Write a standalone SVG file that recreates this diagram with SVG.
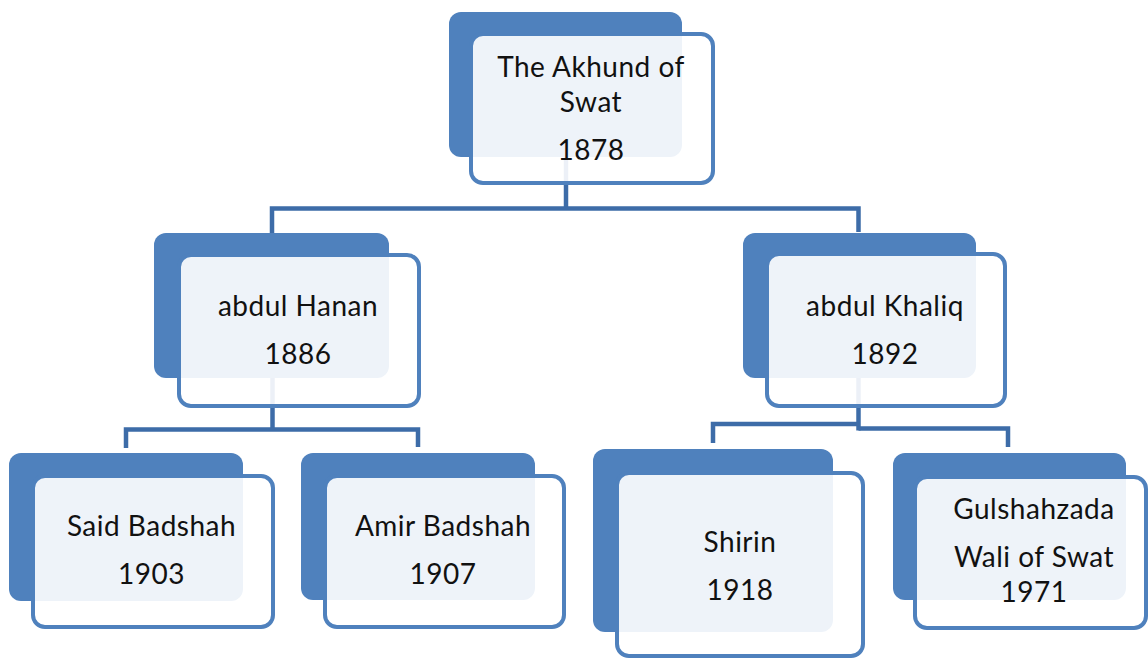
<svg xmlns="http://www.w3.org/2000/svg" width="1148" height="658" viewBox="0 0 1148 658">
<style>
.bg{fill:#ffffff}
.back{fill:#4F81BD}
.front{fill:#ffffff;fill-opacity:0.9;stroke:#4F81BD;stroke-width:4}
.conn{fill:none;stroke:#3D6CA8;stroke-width:4.5;stroke-linejoin:miter}
text{font-family:Lato,"Open Sans","Liberation Sans",sans-serif;font-size:28px;letter-spacing:0.5px;fill:#111111;text-anchor:middle}
</style>
<rect class="bg" x="0" y="0" width="1148" height="658"/>
<g id="connectors">
<path class="conn" d="M566,100 V208.5"/>
<path class="conn" d="M272,233 V208.5 H858.5 V232"/>
<path class="conn" d="M272.5,320 V429.5"/>
<path class="conn" d="M126,448 V429.5 H418 V447"/>
<path class="conn" d="M858.5,320 V430.5"/>
<path class="conn" d="M713,443 V424 H858.5"/>
<path class="conn" d="M858.5,428.5 H1008 V447"/>
</g>
<g id="node-akhund">
<rect class="back" x="449" y="12" width="233" height="145" rx="12"/>
<rect class="front" x="471" y="34" width="242" height="149" rx="12"/>
<text x="591" y="77">The Akhund of</text>
<text x="591" y="112">Swat</text>
<text x="591" y="160">1878</text>
</g>
<g id="node-hanan">
<rect class="back" x="154" y="233" width="235" height="145" rx="12"/>
<rect class="front" x="179" y="255" width="240" height="151" rx="12"/>
<text x="298" y="316">abdul Hanan</text>
<text x="298" y="364">1886</text>
</g>
<g id="node-khaliq">
<rect class="back" x="743" y="233" width="233" height="145" rx="12"/>
<rect class="front" x="767" y="254" width="238" height="152" rx="12"/>
<text x="885" y="316">abdul Khaliq</text>
<text x="885" y="364">1892</text>
</g>
<g id="node-said">
<rect class="back" x="9" y="453" width="234" height="148" rx="12"/>
<rect class="front" x="33" y="476" width="240" height="151" rx="12"/>
<text x="151.5" y="536">Said Badshah</text>
<text x="151.5" y="584">1903</text>
</g>
<g id="node-amir">
<rect class="back" x="301" y="453" width="234" height="147" rx="12"/>
<rect class="front" x="325" y="476" width="239" height="151" rx="12"/>
<text x="443" y="536">Amir Badshah</text>
<text x="443" y="584">1907</text>
</g>
<g id="node-shirin">
<rect class="back" x="593" y="449" width="240" height="183" rx="12"/>
<rect class="front" x="617" y="473" width="246" height="183" rx="12"/>
<text x="740" y="552">Shirin</text>
<text x="740" y="600">1918</text>
</g>
<g id="node-gulshahzada">
<rect class="back" x="893" y="453" width="233" height="147" rx="12"/>
<rect class="front" x="915" y="477" width="231" height="151" rx="12"/>
<text x="1034" y="519">Gulshahzada</text>
<text x="1034" y="567">Wali of Swat</text>
<text x="1034" y="602">1971</text>
</g>
</svg>
